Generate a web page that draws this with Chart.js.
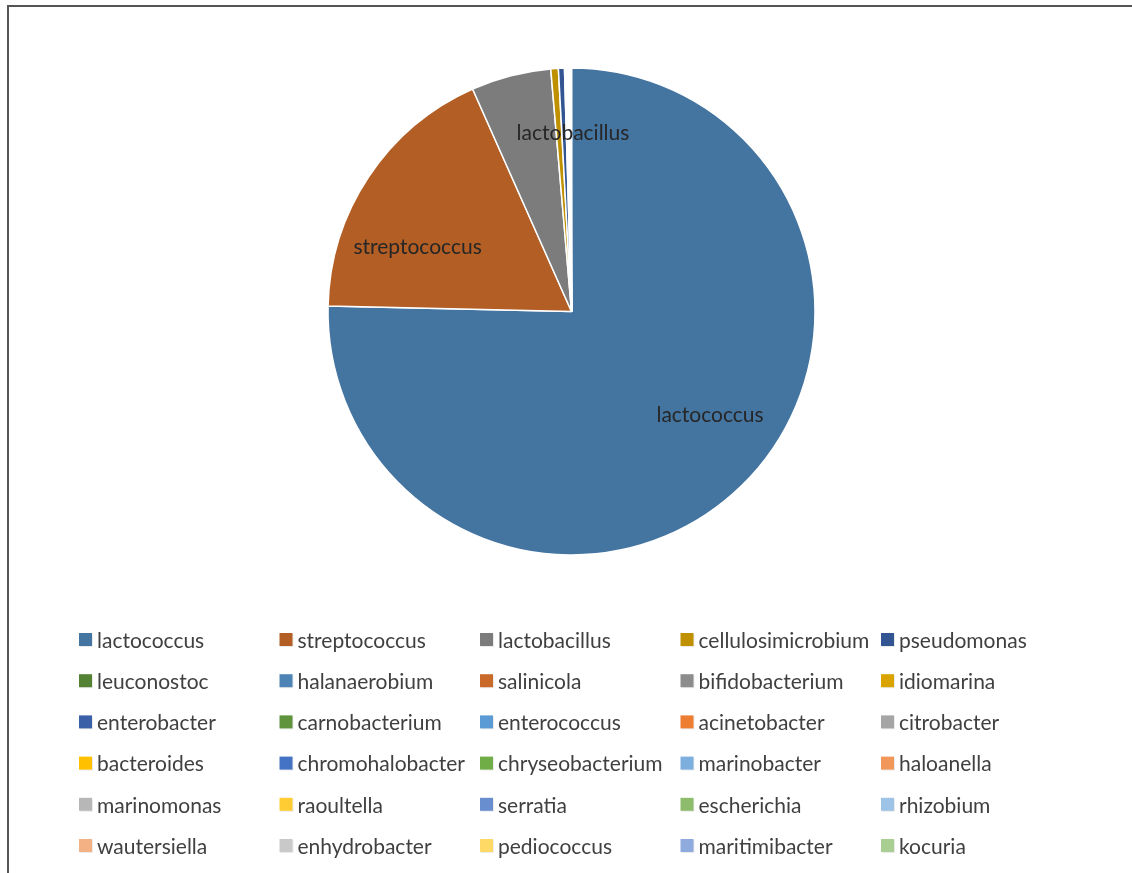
<!DOCTYPE html>
<html>
<head>
<meta charset="utf-8">
<script src="https://cdn.jsdelivr.net/npm/chart.js@4.4.1/dist/chart.umd.min.js"></script>
<style>
  html, body { margin: 0; padding: 0; background: #fff; overflow: hidden; }
  #wrap { position: relative; width: 1132px; height: 873px; }
  #wrap canvas { position: absolute; left: 0; top: 0; }
  #frame { position: absolute; left: 7px; top: 5px; width: 1300px; height: 1000px;
           border-left: 2px solid #555; border-top: 2px solid #555; pointer-events: none; }
</style>
</head>
<body>
<div id="wrap">
  <canvas id="chart" width="1132" height="873"></canvas>
  <div id="frame"></div>
</div>
<script>
// Genera in legend order (clockwise from 12 o'clock in the pie)
const genera = [
  'lactococcus', 'streptococcus', 'lactobacillus', 'cellulosimicrobium', 'pseudomonas',
  'leuconostoc', 'halanaerobium', 'salinicola', 'bifidobacterium', 'idiomarina',
  'enterobacter', 'carnobacterium', 'enterococcus', 'acinetobacter', 'citrobacter',
  'bacteroides', 'chromohalobacter', 'chryseobacterium', 'marinobacter', 'haloanella',
  'marinomonas', 'raoultella', 'serratia', 'escherichia', 'rhizobium',
  'wautersiella', 'enhydrobacter', 'pediococcus', 'maritimibacter', 'kocuria'
];

// Relative abundance (%)
const abundance = [
  75.4, 18.0, 5.3, 0.5, 0.4,
  0.06, 0.05, 0.04, 0.03, 0.03,
  0.02, 0.02, 0.02, 0.02, 0.02,
  0.01, 0.01, 0.01, 0.01, 0.01,
  0.01, 0.01, 0.01, 0.01, 0.01,
  0.01, 0.01, 0.01, 0.01, 0.01
];

// Genera whose names are written on their slices
const labelledGenera = ['lactococcus', 'streptococcus', 'lactobacillus'];

// Office-style palette: darker shades, mid shades, base accents, two tints
const palette = [
  '#4474A0', '#B25E25', '#7C7C7C', '#BF9000', '#335693',
  '#548235', '#4D84B5', '#C96A2A', '#8C8C8C', '#D9A300',
  '#3A61A7', '#5F933C', '#5B9BD5', '#ED7D31', '#A5A5A5',
  '#FFC000', '#4472C4', '#70AD47', '#7CAFDD', '#F1975A',
  '#B7B7B7', '#FFCD33', '#698ED0', '#8DBD6C', '#9DC3E6',
  '#F4B183', '#C9C9C9', '#FFD966', '#8FAADC', '#A9CE91'
];

const FONT = '21px Lato, "Open Sans", sans-serif';

// Names drawn inside the pie, placed relative to each slice's mid angle
const sliceLabels = {
  id: 'sliceLabels',
  afterDatasetsDraw(chart, args, opts) {
    const meta = chart.getDatasetMeta(0);
    const ctx = chart.ctx;
    ctx.save();
    ctx.font = opts.font;
    ctx.fillStyle = opts.color;
    ctx.textAlign = 'center';
    ctx.textBaseline = 'middle';
    meta.data.forEach((arc, i) => {
      const name = chart.data.labels[i];
      if (!opts.names.includes(name)) return;
      const place = opts.placement[name] || { shift: 0, dist: 0.7 };
      const p = arc.getProps(['x', 'y', 'outerRadius', 'startAngle', 'endAngle'], true);
      const a = (p.startAngle + p.endAngle) / 2 + place.shift * Math.PI / 180;
      const r = p.outerRadius * place.dist;
      ctx.fillText(name, p.x + Math.cos(a) * r, p.y + Math.sin(a) * r);
    });
    ctx.restore();
  }
};

// Fixed-column legend grid below the pie
const gridLegend = {
  id: 'gridLegend',
  afterDraw(chart, args, opts) {
    const ctx = chart.ctx;
    const colors = chart.data.datasets[0].backgroundColor;
    ctx.save();
    ctx.font = opts.font;
    ctx.textBaseline = 'middle';
    ctx.textAlign = 'left';
    chart.data.labels.forEach((name, i) => {
      const col = i % opts.columns;
      const row = Math.floor(i / opts.columns);
      const x = opts.left + col * opts.colWidth;
      const y = opts.top + row * opts.rowHeight;
      ctx.fillStyle = 'rgba(0,0,0,0.08)';
      ctx.fillRect(x + 1, y - 6, 13, 13);
      ctx.fillStyle = colors[i];
      ctx.fillRect(x, y - 7, 13, 13);
      ctx.fillStyle = opts.color;
      ctx.fillText(name, x + 18, y + 1);
    });
    ctx.restore();
  }
};

new Chart(document.getElementById('chart'), {
  type: 'pie',
  data: {
    labels: genera,
    datasets: [{
      data: abundance,
      backgroundColor: palette,
      borderColor: '#ffffff',
      borderWidth: 1.5
    }]
  },
  options: {
    responsive: false,
    animation: false,
    radius: 243.5,
    layout: { padding: { left: 321, right: 310, top: 61, bottom: 311 } },
    plugins: {
      legend: { display: false },
      tooltip: { enabled: false },
      sliceLabels: {
        names: labelledGenera,
        font: FONT,
        color: '#262626',
        placement: {
          lactococcus: { shift: -8.9, dist: 0.71 },
          streptococcus: { shift: -11, dist: 0.685 },
          lactobacillus: { shift: 14.9, dist: 0.733 }
        }
      },
      gridLegend: {
        font: FONT,
        color: '#404040',
        columns: 5,
        left: 79,
        top: 640,
        colWidth: 200.5,
        rowHeight: 41.2
      }
    }
  },
  plugins: [sliceLabels, gridLegend]
});
</script>
</body>
</html>
